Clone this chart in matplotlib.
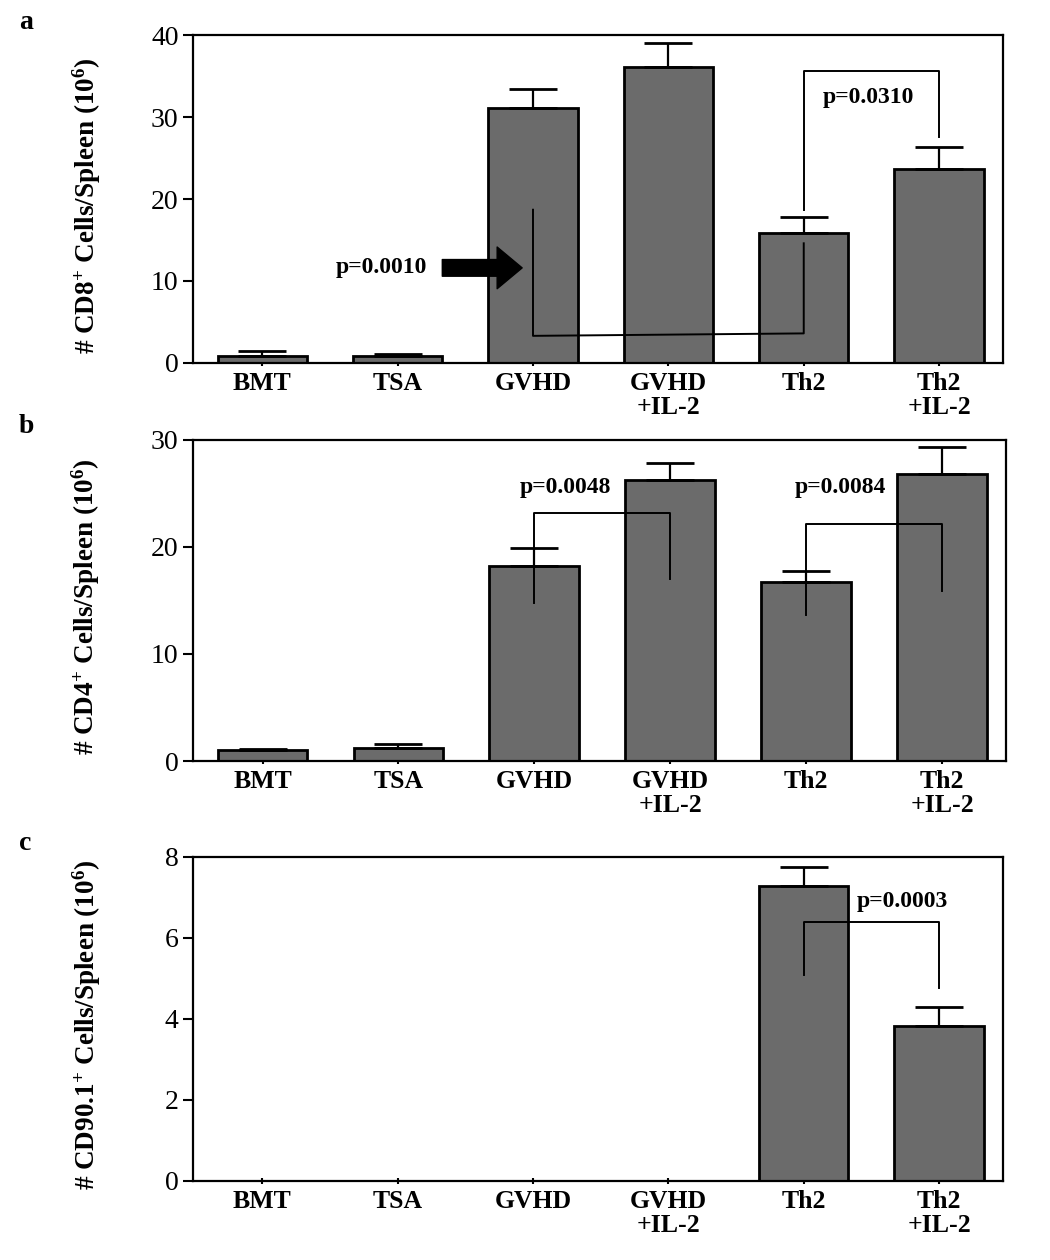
import numpy as np
import matplotlib
matplotlib.use("Agg")
import matplotlib.pyplot as plt

plt.rcParams['font.family'] = ['Liberation Serif', 'DejaVu Serif']
plt.rcParams['mathtext.fontset'] = 'custom'
plt.rcParams['mathtext.rm'] = 'Liberation Serif:bold'
plt.rcParams['mathtext.default'] = 'rm'

# data
groups = ["BMT", "TSA", "GVHD", "GVHD\n+IL-2", "Th2", "Th2\n+IL-2"]

cd8_mean = [0.9, 0.9, 31.1, 36.1, 15.9, 23.7]
cd8_err = [0.5, 0.2, 2.3, 2.9, 1.9, 2.6]

cd4_mean = [1.0, 1.2, 18.2, 26.2, 16.7, 26.8]
cd4_err = [0.15, 0.4, 1.7, 1.6, 1.0, 2.5]

cd90_mean = [0, 0, 0, 0, 7.28, 3.83]
cd90_err = [0, 0, 0, 0, 0.47, 0.45]

# brackets: (x points, y points, label, label x, label y)
cd8_brackets = [
    ([4, 4, 5, 5], [18.7, 35.6, 35.6, 27.6], "p=0.0310", 4.48, 32.4),
    ([2, 2, 4, 4], [18.7, 3.3, 3.6, 14.6], "p=0.0010", 0.88, 11.6),
]
cd4_brackets = [
    ([2, 2, 3, 3], [14.8, 23.2, 23.2, 17.0], "p=0.0048", 2.23, 25.5),
    ([4, 4, 5, 5], [13.6, 22.1, 22.1, 15.9], "p=0.0084", 4.25, 25.5),
]
cd90_brackets = [
    ([4, 4, 5, 5], [5.08, 6.4, 6.4, 4.75], "p=0.0003", 4.73, 6.9),
]


def draw_panel(ax, mean, err, brackets, ymax, ystep, ylabel, letter):
	x = np.arange(len(groups))
	ax.bar(x, mean, width=0.66, color="#6b6b6b", edgecolor="black", linewidth=2, zorder=2)
	for xi, m, e in zip(x, mean, err):
		if e > 0:
			ax.errorbar(xi, m, yerr=[[0], [e]], fmt="none", ecolor="black",
			            elinewidth=1.6, capsize=17, capthick=2, zorder=3)
	for xs, ys, txt, tx, ty in brackets:
		ax.plot(xs, ys, color="black", lw=1.4, zorder=4)
		ax.text(tx, ty, txt, ha="center", va="center", fontsize=17, fontweight="bold", zorder=5)
	ax.set_xlim(-0.51, 5.47)
	ax.set_ylim(0, ymax)
	ax.set_yticks(np.arange(0, ymax + 0.01, ystep))
	ax.set_xticks(x)
	ax.set_xticklabels(groups, fontsize=18.5, fontweight="bold", linespacing=1.05)
	ax.tick_params(axis="y", labelsize=20, length=7, width=1.5, direction="out")
	ax.tick_params(axis="x", length=5, width=1.5, direction="inout", pad=4)
	for s in ax.spines.values():
		s.set_linewidth(1.6)
	ax.set_ylabel(ylabel, fontsize=19.5, fontweight="bold")
	ax.yaxis.set_label_coords(-0.112, 0.48)
	ax.text(-0.215, 1.02, letter, transform=ax.transAxes, fontsize=20, fontweight="bold")


fig = plt.figure(figsize=(10.5, 12.6), dpi=100)
ax_a = fig.add_axes([0.184, 0.712, 0.771, 0.260])
ax_b = fig.add_axes([0.184, 0.396, 0.774, 0.255])
ax_c = fig.add_axes([0.184, 0.063, 0.771, 0.257])

draw_panel(ax_a, cd8_mean, cd8_err, cd8_brackets, 40, 10,
           r"# CD8$^{+}$ Cells/Spleen (10$^{6}$)", "a")
draw_panel(ax_b, cd4_mean, cd4_err, cd4_brackets, 30, 10,
           r"# CD4$^{+}$ Cells/Spleen (10$^{6}$)", "b")
draw_panel(ax_c, cd90_mean, cd90_err, cd90_brackets, 8, 2,
           r"# CD90.1$^{+}$ Cells/Spleen (10$^{6}$)", "c")

# thick arrow pointing at the GVHD bar in panel a
ax_a.annotate("", xy=(1.92, 11.6), xytext=(1.33, 11.6),
              arrowprops=dict(arrowstyle="simple,head_width=1.5,head_length=0.9,tail_width=0.6",
                              fc="black", ec="black", mutation_scale=20,
                              shrinkA=0, shrinkB=0), zorder=5)

fig.savefig("out.png", dpi=100)
